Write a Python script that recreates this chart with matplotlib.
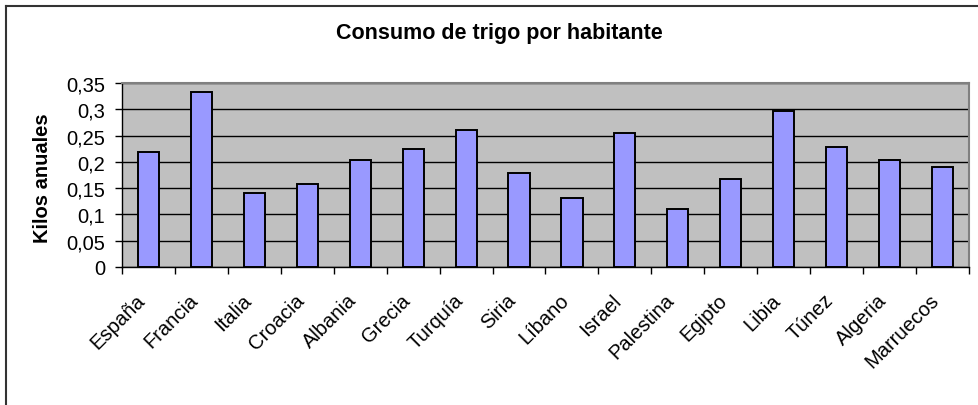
import matplotlib
matplotlib.use("Agg")
import matplotlib.pyplot as plt
from matplotlib.lines import Line2D
from matplotlib.transforms import ScaledTranslation
import numpy as np

plt.rcParams['font.family'] = ['Liberation Sans', 'DejaVu Sans']

title = "Consumo de trigo por habitante"
ylabel = "Kilos anuales"
countries = ["España", "Francia", "Italia", "Croacia", "Albania", "Grecia",
             "Turquía", "Siria", "Líbano", "Israel", "Palestina", "Egipto",
             "Libia", "Túnez", "Algeria", "Marruecos"]
consumo = [0.218, 0.332, 0.140, 0.157, 0.204, 0.225, 0.260, 0.179, 0.132,
           0.254, 0.110, 0.168, 0.297, 0.229, 0.203, 0.190]
yticks = [0, 0.05, 0.1, 0.15, 0.2, 0.25, 0.3, 0.35]
yticklabels = ["0", "0,05", "0,1", "0,15", "0,2", "0,25", "0,3", "0,35"]

W, H = 979, 406
fig = plt.figure(figsize=(W / 100, H / 100), dpi=100)

L, R, T, B = 122, 969, 84, 268
ax = fig.add_axes([L / W, 1 - B / H, (R - L) / W, (B - T) / H])
ax.set_facecolor("#C0C0C0")

x = np.arange(len(countries))
ax.bar(x, consumo, width=0.4, color="#9999FF", edgecolor="black", linewidth=1.4, zorder=3)

ax.set_xlim(-0.5, len(countries) - 0.5)
ax.set_ylim(0, 0.35)
ax.set_yticks(yticks)
ax.set_yticklabels(yticklabels, fontsize=14.5)
ax.yaxis.grid(True, color="black", linewidth=1.0, zorder=1)
ax.set_axisbelow(True)
ax.tick_params(axis="y", direction="out", length=5, width=1, pad=7, colors="black")

ax.set_xticks(x)
ax.set_xticklabels(countries, fontsize=14.5, rotation=45, ha="right", va="top",
                   rotation_mode="anchor")
ax.tick_params(axis="x", which="major", length=0, pad=0)
ax.set_xticks(np.arange(len(countries) + 1) - 0.5, minor=True)
ax.tick_params(axis="x", which="minor", direction="out", length=5, width=1, colors="black")
off = ScaledTranslation(-13 / 100, -23 / 100, fig.dpi_scale_trans)
for lab in ax.get_xticklabels():
    lab.set_transform(lab.get_transform() + off)

for s in ["top", "right"]:
    ax.spines[s].set_color("#808080")
    ax.spines[s].set_linewidth(1.5)
for s in ["left", "bottom"]:
    ax.spines[s].set_color("black")
    ax.spines[s].set_linewidth(1.0)

fig.text(42 / W, 1 - 178 / H, ylabel, fontsize=14.5, fontweight="bold",
         rotation=90, ha="center", va="center")

fig.text(499 / W, 1 - 33 / H, title, fontsize=15.5, fontweight="bold",
         ha="center", va="center")

# outer chart border (top and left visible)
fig.add_artist(Line2D([6.5 / W, 1.0], [1 - 6.5 / H, 1 - 6.5 / H], color="#333333",
                      linewidth=1.5, transform=fig.transFigure))
fig.add_artist(Line2D([6.5 / W, 6.5 / W], [0, 1 - 6.5 / H], color="#333333",
                      linewidth=1.5, transform=fig.transFigure))

fig.savefig("out.png", dpi=100)
